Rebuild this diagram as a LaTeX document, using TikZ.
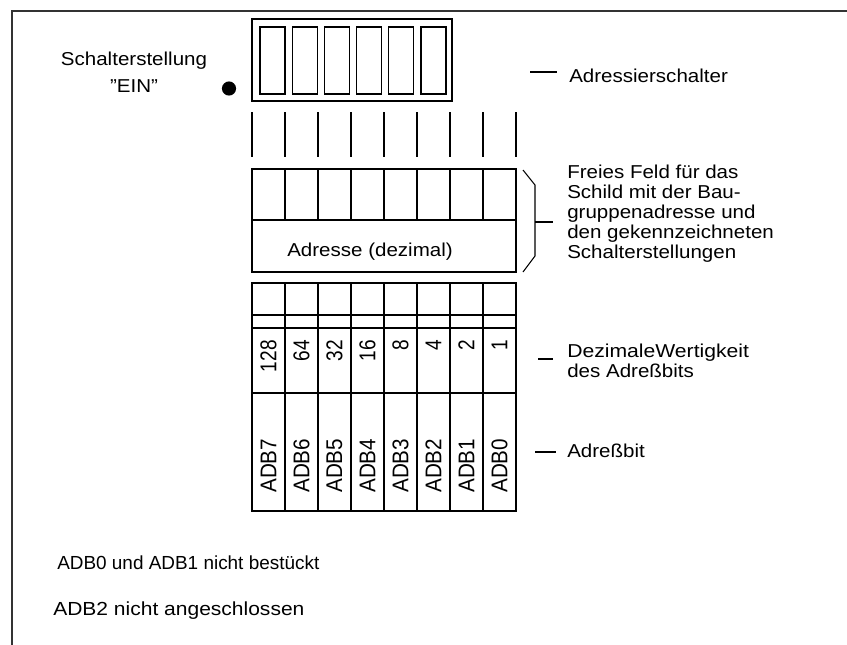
\documentclass[tikz,border=0pt]{standalone}
\usepackage{fontspec}
\usepackage{graphicx}
\setmainfont{Liberation Sans}[FakeStretch=1.1]
\newfontfamily\rfont{Liberation Sans}
\begin{document}
\begin{tikzpicture}[x=0.75pt,y=-0.75pt,
  ln/.style={line width=0.8pt, black},
  frameline/.style={line width=1.4pt, black!80},
  txt/.style={inner sep=0pt, font=\fontsize{14}{15}\selectfont},
  btxt/.style={inner sep=0pt, font=\rfont\fontsize{14.2}{15}\selectfont},
  numtxt/.style={inner sep=0pt, rotate=90, font=\rfont\fontsize{14.3}{15}\selectfont},
  adbtxt/.style={inner sep=0pt, rotate=90, font=\rfont\fontsize{15.5}{16}\selectfont}]
\useasboundingbox (0,0) rectangle (847,644);
% outer frame (open to right and bottom)
\draw[frameline] (12,650) -- (12,11) -- (855,11);
% address switch
\draw[ln] (252,19) rectangle (452,101);
\foreach \i in {0,...,5} \draw[ln] ({260+32.2*\i},27) rectangle ++(25,67);
\fill (229,88.5) circle (5.3pt);
\node[txt, anchor=base] (s1) at (134,65) {Schalterstellung};
\node[txt, anchor=base] (s2) at (134,92) {”EIN”};
% pins
\foreach \x in {252,285,318,351,384,417,450,483,516} \draw[ln] (\x,112) -- (\x,157);
% label field
\draw[ln] (252,169) rectangle (516,272);
\draw[ln] (252,220) -- (516,220);
\foreach \x in {285,318,351,384,417,450,483} \draw[ln] (\x,169) -- (\x,220);
\node[txt, anchor=base] (adr) at (370,256) {Adresse (dezimal)};
% brace
\draw[ln] (523,170) -- (535,185) -- (535,256) -- (523,272);
\draw[ln] (535,222) -- (553,222);
\node[txt, anchor=base west] (b1) at (567,178) {Freies Feld für das};
\node[txt, anchor=base west] (b2) at (567,198) {Schild mit der Bau-};
\node[txt, anchor=base west] (b3) at (567,218) {gruppenadresse und};
\node[txt, anchor=base west] (b4) at (567,238) {den gekennzeichneten};
\node[txt, anchor=base west] (b5) at (567,258) {Schalterstellungen};
% Adressierschalter
\draw[ln] (530,72) -- (557,72);
\node[txt, anchor=base west] (as) at (569,82) {Adressierschalter};
% lower table
\draw[ln] (252,283) rectangle (516,511);
\foreach \y in {315,328,393} \draw[ln] (252,\y) -- (516,\y);
\foreach \x in {285,318,351,384,417,450,483} \draw[ln] (\x,283) -- (\x,511);
\foreach \v [count=\i from 0] in {128,64,32,16,8,4,2,1}
  \node[numtxt, anchor=east] (n\i) at ({268.5+33*\i},340) {\scalebox{1}[1.2]{\v}};
\foreach \v [count=\i from 0] in {7,6,5,4,3,2,1,0}
  \node[adbtxt, anchor=west] (a\i) at ({268.5+33*\i},493) {\scalebox{1}[1.1]{ADB\v}};
% Dezimale Wertigkeit
\draw[ln] (538,359) -- (553,359);
\node[txt, anchor=base west] (d1) at (567,357) {\scalebox{1.03}[1]{DezimaleWertigkeit}};
\node[txt, anchor=base west] (d2) at (567,377) {des Adreßbits};
% Adressbit
\draw[ln] (535,452) -- (556,452);
\node[txt, anchor=base west] (ab) at (567,457) {Adreßbit};
% notes
\node[btxt, anchor=base west] (nt1) at (57,569) {ADB0 und ADB1 nicht bestückt};
\node[btxt, anchor=base west] (nt2) at (53,615) {\scalebox{1.11}[1]{ADB2 nicht angeschlossen}};
\end{tikzpicture}
\end{document}
